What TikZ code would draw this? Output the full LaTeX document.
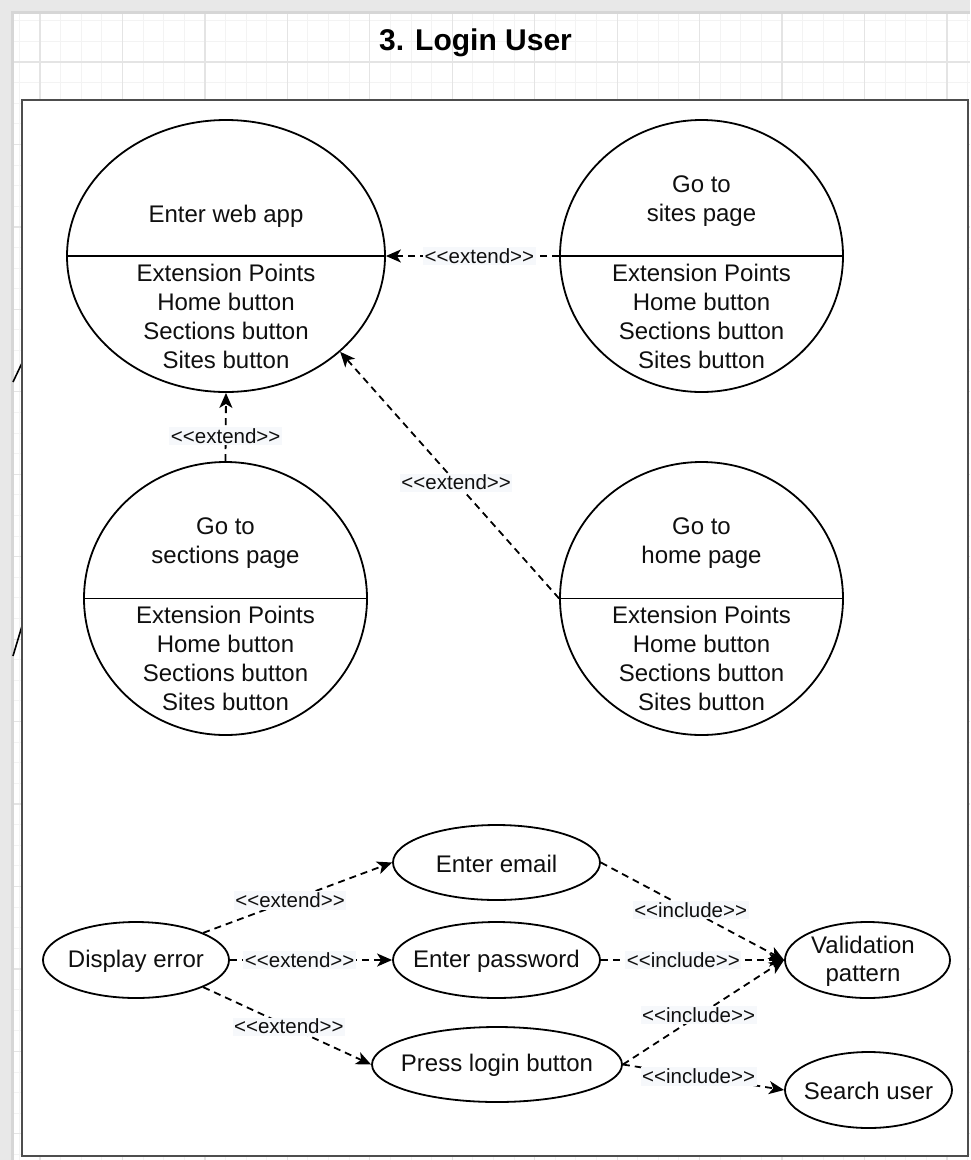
\documentclass[tikz,border=0pt]{standalone}
\usepackage{fontspec}
\setmainfont{Liberation Sans}[Ligatures=TeXOff]
\usetikzlibrary{shapes.geometric,arrows.meta}
\definecolor{gridminor}{RGB}{243,243,243}
\definecolor{gridmajor}{RGB}{228,228,228}
\definecolor{edgeband}{RGB}{232,232,232}
\definecolor{edgeshade}{RGB}{214,214,214}
\definecolor{framecol}{RGB}{77,77,77}
\definecolor{labbg}{RGB}{246,248,251}
\definecolor{inkcol}{RGB}{15,15,15}

\begin{document}
\begin{tikzpicture}[x=1pt,y=-1pt,
  uc/.style={draw=black, line width=1.8pt, ellipse, inner sep=0pt, fill=white},
  uctext/.style={font=\fontsize{24}{29}\selectfont, align=center, inner sep=0pt, text=inkcol},
  divider/.style={line width=1.8pt},
  rel/.style={line width=1.8pt, dash pattern=on 7pt off 5pt,
              -{Stealth[length=15pt,width=13pt,inset=4pt]}},
  rellabel/.style={font=\fontsize{20.5}{23}\selectfont, fill=labbg, inner sep=1.5pt, text=inkcol},
  fragment/.style={line width=1.6pt, black}
]
\useasboundingbox (0,0) rectangle (970,1160);
\fill[white] (0,0) rectangle (970,1160);

% canvas grid
\foreach \k in {0,...,46}
  \draw[gridminor, line width=1pt] ({19.39+\k*20.6125},14) -- ++(0,1146);
\foreach \k in {0,...,55}
  \draw[gridminor, line width=1pt] (14,{20.77+\k*20.6125}) -- ++(956,0);
\foreach \k in {0,...,11}
  \draw[gridmajor, line width=1.2pt] ({40+\k*82.45},14) -- ++(0,1146);
\foreach \k in {0,...,13}
  \draw[gridmajor, line width=1.2pt] (14,{62+\k*82.45}) -- ++(956,0);

% window edges
\fill[edgeband] (0,0) rectangle (14,1160);
\fill[edgeband] (0,0) rectangle (970,14);
\fill[edgeshade] (11,11) rectangle (14,1160);
\fill[edgeshade] (11,11) rectangle (970,14);

% connector ends coming from the left
\coordinate (fa1) at (13,382);
\coordinate (fa2) at (22,363);
\coordinate (fb1) at (13,656);
\coordinate (fb2) at (22,626);
\draw[fragment] (fa1) -- (fa2);
\draw[fragment] (fb1) -- (fb2);

% title
\node[font=\bfseries\fontsize{30}{36}\selectfont, text=black] (title) at (475.5,43) {3. Login User};

% system boundary
\draw[framecol, line width=2.2pt, fill=white] (22,100) rectangle (968,1156);

% use cases with extension points
\node[uc, minimum width=318pt, minimum height=272pt] (web) at (226,256) {};
\draw[divider] (web.west) -- (web.east);
\node[uctext] (webT) at (226,216) {Enter web app};
\node[uctext] (webX) at (226,316) {Extension Points\\Home button\\Sections button\\Sites button};

\node[uc, minimum width=283pt, minimum height=272pt] (sites) at (701.5,256) {};
\draw[divider] (sites.west) -- (sites.east);
\node[uctext] (sitesT) at (701.5,201) {Go to\\sites page};
\node[uctext] (sitesX) at (701.5,316) {Extension Points\\Home button\\Sections button\\Sites button};

\node[uc, minimum width=283pt, minimum height=273pt] (sec) at (225.5,598.5) {};
\draw[divider] (sec.west) -- (sec.east);
\node[uctext] (secT) at (225.5,543.5) {Go to\\sections page};
\node[uctext] (secX) at (225.5,658.5) {Extension Points\\Home button\\Sections button\\Sites button};

\node[uc, minimum width=283pt, minimum height=273pt] (home) at (701.5,598.5) {};
\draw[divider] (home.west) -- (home.east);
\node[uctext] (homeT) at (701.5,543.5) {Go to\\home page};
\node[uctext] (homeX) at (701.5,658.5) {Extension Points\\Home button\\Sections button\\Sites button};

% login use cases
\node[uc, minimum width=186pt, minimum height=76pt] (err) at (136,960) {};
\node[uctext] (errT) at (136,961) {Display error};
\node[uc, minimum width=207pt, minimum height=75pt] (email) at (496.5,862.5) {};
\node[uctext] (emailT) at (496.5,863.5) {Enter email};
\node[uc, minimum width=207pt, minimum height=76pt] (pw) at (496.5,960) {};
\node[uctext] (pwT) at (496.5,961) {Enter password};
\node[uc, minimum width=250pt, minimum height=75pt] (login) at (497,1064.5) {};
\node[uctext] (loginT) at (497,1065.5) {Press login button};
\node[uc, minimum width=165pt, minimum height=76pt] (val) at (867.5,960) {};
\node[uctext, font=\fontsize{24}{28}\selectfont] (valT) at (863,961) {Validation\\pattern};
\node[uc, minimum width=167pt, minimum height=76pt] (search) at (868.5,1090) {};
\node[uctext] (searchT) at (868.5,1091) {Search user};

% extend relations
\draw[rel] (sites.west) -- node[rellabel, pos=0.46] {<<extend>>} (web.east);
\draw[rel] (sec.north) -- node[rellabel, pos=0.37] {<<extend>>} (web.south);
\draw[rel] (home.west) -- node[rellabel, pos=0.47] {<<extend>>} (web.-40);

\draw[rel] (err.22) -- node[rellabel, pos=0.46] {<<extend>>} (email.west);
\draw[rel] (err.east) -- node[rellabel, pos=0.43] {<<extend>>} (pw.west);
\draw[rel] (err.-22) -- node[rellabel, pos=0.51] {<<extend>>} (login.west);

% include relations
\draw[rel] (email.east) -- node[rellabel, pos=0.49] {<<include>>} (val.west);
\draw[rel] (pw.east) -- node[rellabel, pos=0.45] {<<include>>} (val.west);
\draw[rel] (login.east) -- node[rellabel, pos=0.47] {<<include>>} (val.west);
\draw[rel] (login.east) -- node[rellabel, pos=0.47] {<<include>>} (search.west);
\end{tikzpicture}
\end{document}
